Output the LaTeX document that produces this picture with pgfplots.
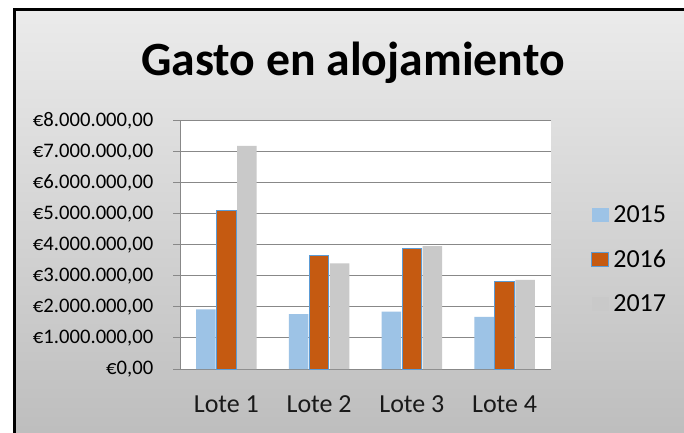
\documentclass[border=0pt]{standalone}
\usepackage{pgfplots}
\pgfplotsset{compat=1.18}
\usepackage{pgfplotstable}
\usepackage{fontspec}
\setmainfont{Carlito}

\definecolor{c15}{HTML}{9DC3E6}
\definecolor{c16}{HTML}{C55A11}
\definecolor{c16e}{HTML}{5B9BD5}
\definecolor{c17}{HTML}{C9C9C9}
\definecolor{gridc}{HTML}{888888}
\definecolor{bgtop}{HTML}{EBEBEB}
\definecolor{bgbot}{HTML}{BDBDBD}

% gasto en millones de euros
\pgfplotstableread{
x   y2015 y2016 y2017
0.5 1.92  5.12  7.19
1.5 1.77  3.65  3.40
2.5 1.85  3.87  3.96
3.5 1.68  2.83  2.87
}\gasto

\begin{document}
\begin{tikzpicture}[x=0.75pt,y=-0.75pt]
\useasboundingbox (0,0) rectangle (684,432);
\fill[white] (0,0) rectangle (684,432);
\shade[top color=bgtop,bottom color=bgbot] (14.5,9.5) rectangle (720,440);
\draw[line width=2.25pt,black] (14.5,9.5) rectangle (720,440);
\node[anchor=base,font=\fontsize{35.8}{42}\selectfont\bfseries] at (353,75) {Gasto en alojamiento};
\coordinate (o) at (180,369);
\begin{axis}[
    at={(o)}, anchor=south west,
    scale only axis,
    width=278.25pt, height=186.2pt,
    xmin=0, xmax=4,
    ymin=0, ymax=8,
    axis lines*=left,
    axis line style={gridc,line width=0.75pt},
    axis background/.style={fill=white},
    ymajorgrids=true,
    major grid style={gridc,line width=0.75pt},
    tick align=outside,
    major tick length=5.25pt,
    ytick style={gridc,line width=0.75pt},
    xtick style={draw=none},
    xtick={0.5,1.5,2.5,3.5},
    xticklabels={Lote 1,Lote 2,Lote 3,Lote 4},
    ytick={0,1,...,8},
    yticklabels={{€0,00},{€1.000.000,00},{€2.000.000,00},{€3.000.000,00},{€4.000.000,00},{€5.000.000,00},{€6.000.000,00},{€7.000.000,00},{€8.000.000,00}},
    yticklabel style={font=\fontsize{15.5}{18}\selectfont,text=black,xshift=-11.25pt},
    xticklabel style={font=\fontsize{19.5}{23}\selectfont,text=black!90,yshift=-11.5pt},
    legend image code/.code={\path[#1,/tikz/.cd,line width=0.75pt] (0pt,-5.25pt) rectangle (12.75pt,5.25pt);},
    legend style={at={(1.108,0.67)},anchor=north west,draw=none,fill=none,
        font=\fontsize{19.5}{23}\selectfont,row sep=15pt,inner sep=0pt,
        /tikz/every odd column/.append style={column sep=1pt}},
    legend cell align=left,
]
\addplot[ybar,bar width=0.21,bar shift=-0.22,fill=c15,draw=none] table[x=x,y=y2015]{\gasto};
\addlegendentry{2015}
\addplot[ybar,bar width=0.21,bar shift=0,fill=c16,draw=c16e,line width=0.75pt] table[x=x,y=y2016]{\gasto};
\addlegendentry{2016}
\addplot[ybar,bar width=0.21,bar shift=0.22,fill=c17,draw=none] table[x=x,y=y2017]{\gasto};
\addlegendentry{2017}
\end{axis}
\end{tikzpicture}
\end{document}
